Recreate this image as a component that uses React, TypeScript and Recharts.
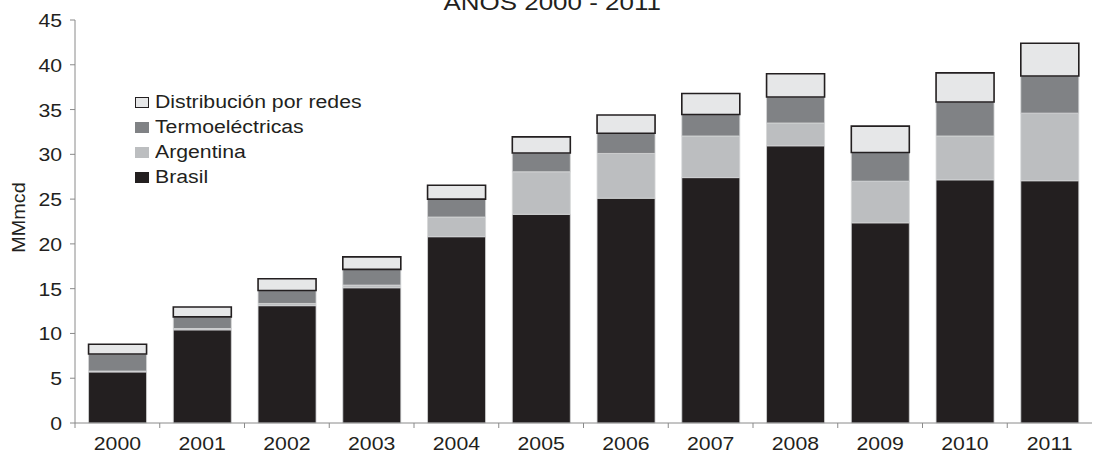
import React from 'react';
import { BarChart, Bar, XAxis, YAxis, Legend } from 'recharts';

const years = ['2000', '2001', '2002', '2003', '2004', '2005', '2006', '2007', '2008', '2009', '2010', '2011'];
const brasil = [5.7, 10.4, 13.1, 15.1, 20.8, 23.3, 25.1, 27.4, 30.95, 22.35, 27.15, 27.05];
const argentina = [0.1, 0.15, 0.25, 0.3, 2.2, 4.75, 5.0, 4.65, 2.55, 4.65, 4.9, 7.55];
const termoelectricas = [1.9, 1.3, 1.45, 1.75, 2.0, 2.1, 2.25, 2.4, 2.9, 3.2, 3.8, 4.15];
const distribucion = [1.1, 1.1, 1.3, 1.4, 1.55, 1.8, 2.05, 2.35, 2.6, 2.95, 3.25, 3.65];
const yTicks = [0, 5, 10, 15, 20, 25, 30, 35, 40, 45];
const titleText = 'AÑOS 2000 - 2011';
const yLabelText = 'MMmcd';

const seriesNames = ['Brasil', 'Argentina', 'Termoeléctricas', 'Distribución por redes'];
const seriesKeys = ['brasil', 'argentina', 'termo', 'dist'];
const seriesColors = ['#231f20', '#bcbec0', '#808285', '#e6e7e8'];

const data = years.map((y, i) => ({
  year: y,
  brasil: brasil[i],
  argentina: argentina[i],
  termo: termoelectricas[i],
  dist: distribucion[i],
}));

const FONT = '"Liberation Sans", Arial, Helvetica, sans-serif';
const TEXT = '#231f20';
const AXIS = '#8a8a8a';
const SX = 1.18;

const XTick = (props: any) => {
  const { x, y, payload, width } = props;
  const half = payload.offset || width / years.length / 2;
  return (
    <g>
      <line x1={x - half} x2={x - half} y1={y} y2={y + 5} stroke={AXIS} strokeWidth={1} />
      <text
        transform={`translate(${x},${y + 27}) scale(${SX},1)`}
        textAnchor="middle"
        fontSize={18}
        fontFamily={FONT}
        fill={TEXT}
      >
        {payload.value}
      </text>
    </g>
  );
};

const YTick = (props: any) => {
  const { x, y, payload } = props;
  return (
    <text
      transform={`translate(${x},${y + 7}) scale(${SX},1)`}
      textAnchor="end"
      fontSize={18}
      fontFamily={FONT}
      fill={TEXT}
    >
      {payload.value}
    </text>
  );
};

const YLabel = (props: any) => {
  const vb = props.viewBox || { x: 0, y: 20, width: 75, height: 403 };
  const cx = vb.x + 25;
  const cy = vb.y + vb.height / 2 - 4;
  return (
    <text
      transform={`translate(${cx},${cy}) rotate(-90) scale(1.1,1)`}
      textAnchor="middle"
      fontSize={18}
      fontFamily={FONT}
      fill={TEXT}
    >
      {yLabelText}
    </text>
  );
};

const LegendContent = () => {
  const order = [3, 2, 1, 0];
  return (
    <div style={{ fontFamily: FONT, fontSize: 18, color: TEXT }}>
      {order.map((i) => (
        <div key={seriesKeys[i]} style={{ height: 25, display: 'flex', alignItems: 'center', whiteSpace: 'nowrap' }}>
          <span
            style={{
              display: 'inline-block',
              width: 14,
              height: 11,
              background: seriesColors[i],
              border: i === 3 ? '1.5px solid #231f20' : 'none',
              boxSizing: 'border-box',
              marginRight: 6,
            }}
          />
          <span style={{ display: 'inline-block', transform: `scaleX(${SX})`, transformOrigin: 'left center' }}>
            {seriesNames[i]}
          </span>
        </div>
      ))}
    </div>
  );
};

export default function App() {
  return (
    <div style={{ position: 'absolute', left: 0, top: 0, width: 1096, height: 454, overflow: 'hidden', background: '#fff' }}>
      <BarChart
        width={1096}
        height={454}
        data={data}
        margin={{ top: 20, right: 4, bottom: 0, left: 0 }}
        barCategoryGap="16%"
      >
        <XAxis
          dataKey="year"
          height={31}
          tickLine={false}
          tickSize={0}
          tickMargin={0}
          axisLine={{ stroke: AXIS, strokeWidth: 1 }}
          tick={<XTick />}
          interval={0}
        />
        <YAxis
          width={75}
          domain={[0, 45]}
          ticks={yTicks}
          interval={0}
          tickSize={5}
          tickMargin={8}
          tickLine={{ stroke: AXIS, strokeWidth: 1 }}
          axisLine={{ stroke: AXIS, strokeWidth: 1 }}
          tick={<YTick />}
          label={<YLabel />}
        />
        <Legend
          layout="horizontal"
          verticalAlign="middle"
          align="center"
          content={<LegendContent />}
          wrapperStyle={{ position: 'absolute', left: 135, top: 90, width: 'auto' }}
        />
        {seriesKeys.map((k, i) => (
          <Bar
            key={k}
            dataKey={k}
            name={seriesNames[i]}
            stackId="a"
            fill={seriesColors[i]}
            stroke={i === 3 ? '#231f20' : '#d4d5d7'}
            strokeWidth={i === 3 ? 1.6 : 0.8}
            isAnimationActive={false}
          />
        ))}
      </BarChart>
      <div
        style={{
          position: 'absolute',
          left: 0,
          width: 1105,
          top: -8,
          textAlign: 'center',
          fontFamily: FONT,
          fontSize: 22,
          lineHeight: '22px',
          color: TEXT,
        }}
      >
        <span style={{ display: 'inline-block', transform: `scaleX(${SX})` }}>{titleText}</span>
      </div>
    </div>
  );
}
